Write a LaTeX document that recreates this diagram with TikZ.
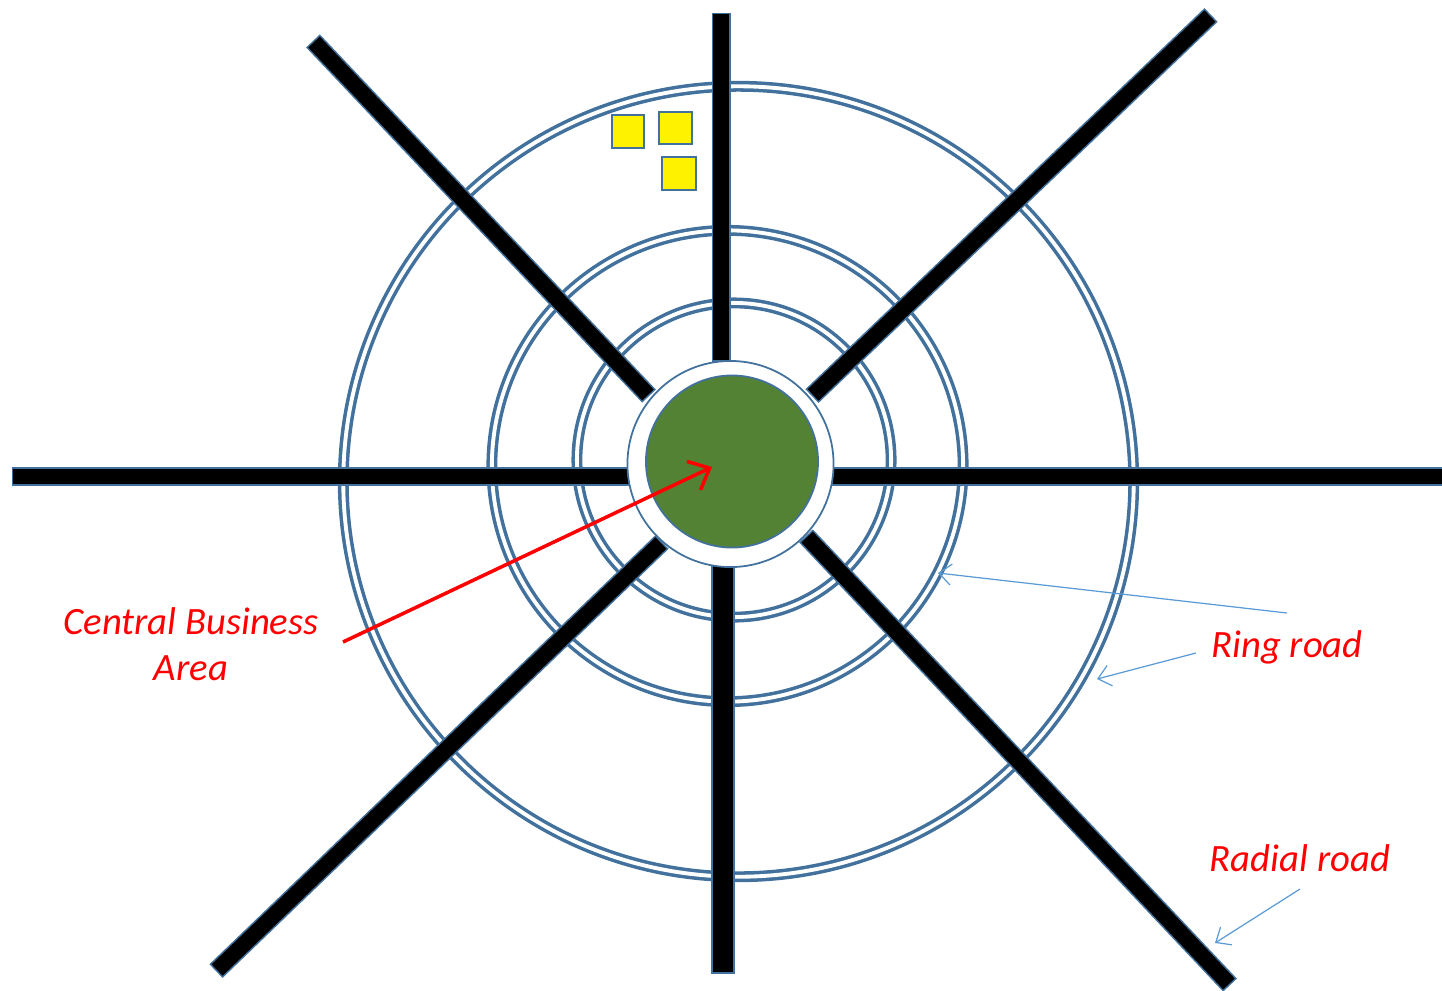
\documentclass[tikz,border=0pt]{standalone}
\usepackage{fontspec}
\setmainfont{Carlito}
\usetikzlibrary{arrows.meta}

\definecolor{roadblue}{RGB}{65,113,156}
\definecolor{pointerblue}{RGB}{91,155,213}
\definecolor{cbdgreen}{RGB}{84,130,53}

\tikzset{
  ring/.style={draw=roadblue, line width=1pt, double=white, double distance=1.1pt},
  radial/.style={draw=roadblue, line width=0.45pt, double=black, double distance=4.5pt, line cap=rect},
  lot/.style={fill=yellow, draw=roadblue, line width=0.6pt},
  tag/.style={text=red, font=\itshape\fontsize{11}{13}\selectfont, align=center},
  pointer/.style={pointerblue, line width=0.35pt, -{Straight Barb[length=3.5pt, width=6pt]}}
}

\begin{document}
\begin{tikzpicture}[x=0.01cm, y=-0.01cm]
      \useasboundingbox (0,0) rectangle (1442,990);

      % Ring roads
      \draw[ring] (738.5,481.5) circle (3.95cm);
      \draw[ring] (727.5,466) circle (2.355cm);
      \draw[ring] (734,460) circle (1.57cm);

      % Radial roads
      \draw[radial] (721,22) -- (721,352);
      \draw[radial, double distance=5.8pt] (723,573) -- (723,962);
      \draw[radial] (21,476.5) -- (624,476.5);
      \draw[radial] (841,476.5) -- (1450,476.5);
      \draw[radial] (319.5,47.8) -- (642.5,389.2);
      \draw[radial] (1204.2,21.5) -- (818.8,389.5);
      \draw[radial] (222.8,964.5) -- (655.2,548.5);
      \draw[radial] (812.5,542.8) -- (1223.5,978.2);

      % Central business area
      \filldraw[fill=white, draw=roadblue, line width=0.5pt] (730.5,464) circle (1.03cm);
      \filldraw[fill=cbdgreen, draw=roadblue, line width=0.5pt] (732,461.5) circle (0.86cm);

      % Plots
      \draw[lot] (612,115) rectangle (644,148);
      \draw[lot] (659,112) rectangle (692,144);
      \draw[lot] (662,157) rectangle (696,190);

      % Labels
      \node[tag] (cbd) at (191,644) {Central Business\\Area};
      \node[tag] (ringroad) at (1287,647) {Ring road};
      \node[tag] (radialroad) at (1300,858) {Radial road};

      \coordinate (cbdtail) at (343,642);
      \coordinate (cbdtip) at (712,467);
      \coordinate (ringtail1) at (1287,613);
      \coordinate (ringtip1) at (938,573);
      \coordinate (ringtail2) at (1196,653);
      \coordinate (ringtip2) at (1097,679);
      \coordinate (radialtail) at (1300,889);
      \coordinate (radialtip) at (1215,943);

      \draw[red, line width=1pt, -{Straight Barb[length=5pt, width=9pt]}] (cbdtail) -- (cbdtip);
      \draw[pointer] (ringtail1) -- (ringtip1);
      \draw[pointer] (ringtail2) -- (ringtip2);
      \draw[pointer] (radialtail) -- (radialtip);

\end{tikzpicture}
\end{document}
